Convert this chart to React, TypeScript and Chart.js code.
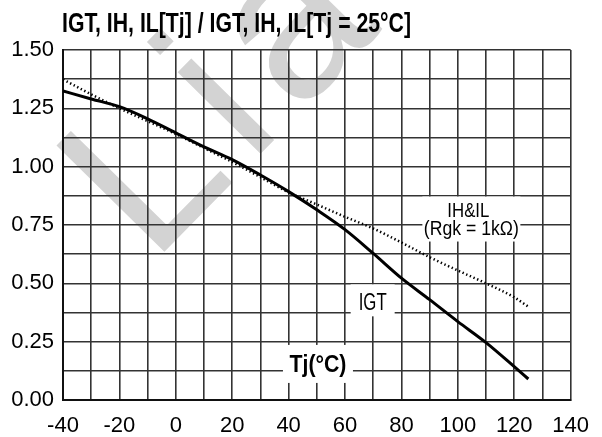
import React, { useEffect, useRef } from "react";
import { Chart, registerables } from "chart.js";

Chart.register(...registerables);

// Junction temperature (°C)
const tempC = [-40, -30, -20, -10, 0, 10, 20, 30, 40, 50, 60, 70, 80, 90, 100, 110, 120, 125];
// IGT[Tj] / IGT[25°C]
const igtRatio = [1.325, 1.29, 1.257, 1.205, 1.145, 1.085, 1.03, 0.964, 0.893, 0.815, 0.73, 0.628, 0.522, 0.43, 0.336, 0.246, 0.143, 0.09];
// IH, IL[Tj] / IH, IL[25°C]  (Rgk = 1kΩ)
const ihIlRatio = [1.374, 1.31, 1.25, 1.195, 1.14, 1.08, 1.02, 0.955, 0.89, 0.838, 0.785, 0.735, 0.675, 0.612, 0.555, 0.5, 0.44, 0.4];

const xTickValues = [-40, -20, 0, 20, 40, 60, 80, 100, 120, 140];
const yTickValues = [0, 0.25, 0.5, 0.75, 1.0, 1.25, 1.5];

const titleText = "IGT, IH, IL[Tj] / IGT, IH, IL[Tj = 25°C]";
const xAxisLabel = "Tj(°C)";
const igtLabel = "IGT";
const ihIlLabel = ["IH&IL", "(Rgk = 1kΩ)"];
const watermarkLetters = ["L", "i", "a"];

const SANS = '"Liberation Sans", Arial, Helvetica, sans-serif';

function drawFittedText(
  ctx: CanvasRenderingContext2D,
  text: string,
  cx: number,
  baseline: number,
  font: string,
  width: number
) {
  ctx.save();
  ctx.font = font;
  const w = ctx.measureText(text).width;
  ctx.translate(cx, baseline);
  ctx.scale(width / w, 1);
  ctx.textAlign = "center";
  ctx.textBaseline = "alphabetic";
  ctx.fillStyle = "#000";
  ctx.fillText(text, 0, 0);
  ctx.restore();
}

// large, light, rotated lettering behind the grid
const watermarkPlugin = {
  id: "watermark",
  beforeDraw(chart: Chart) {
    const ctx = chart.ctx;
    ctx.save();
    ctx.translate(163, 253);
    ctx.rotate((-45.5 * Math.PI) / 180);
    ctx.font = `220px ${SANS}`;
    ctx.fillStyle = "#d3d3d3";
    ctx.textBaseline = "alphabetic";
    ctx.textAlign = "left";
    let x = -16;
    for (const ch of watermarkLetters) {
      ctx.fillText(ch, x, 0);
      x += ctx.measureText(ch).width + 18;
    }
    ctx.restore();
  },
};

const labelsPlugin = {
  id: "curveLabels",
  beforeDatasetsDraw(chart: Chart) {
    const ctx = chart.ctx;
    const xs = chart.scales.x;
    const ys = chart.scales.y;
    const px = (v: number) => xs.getPixelForValue(v);
    const py = (v: number) => ys.getPixelForValue(v);

    // white patches that break the grid behind the labels
    ctx.save();
    ctx.fillStyle = "#fff";
    const ihX = px(104.8);
    ctx.fillRect(ihX - 49, py(0.872), 98, 45);
    const igtX = px(69.8);
    ctx.fillRect(igtX - 22, py(0.5) + 1, 44, 32);
    const tjX = px(50.4);
    ctx.fillRect(tjX - 35, py(0.236), 70, 38);
    ctx.restore();

    drawFittedText(ctx, ihIlLabel[0], ihX - 3, py(0.785), `21px ${SANS}`, 42);
    drawFittedText(ctx, ihIlLabel[1], ihX, py(0.707), `21px ${SANS}`, 95);
    drawFittedText(ctx, igtLabel, igtX, py(0.385), `23px ${SANS}`, 28);
    drawFittedText(ctx, xAxisLabel, tjX, py(0.121), `bold 23px ${SANS}`, 57);
  },
  afterDraw(chart: Chart) {
    drawFittedText(chart.ctx, titleText, 62 + 349 / 2, 31.5, `bold 27px ${SANS}`, 349);
  },
};

export default function App() {
  const canvasRef = useRef<HTMLCanvasElement | null>(null);

  useEffect(() => {
    const canvas = canvasRef.current;
    if (!canvas) return;
    const chart = new Chart(canvas, {
      type: "line",
      data: {
        datasets: [
          {
            label: "IGT",
            data: tempC.map((t, i) => ({ x: t, y: igtRatio[i] })),
            borderColor: "#000",
            borderWidth: 3,
            pointRadius: 0,
            cubicInterpolationMode: "monotone",
            fill: false,
          },
          {
            label: "IH&IL",
            data: tempC.map((t, i) => ({ x: t, y: ihIlRatio[i] })),
            borderColor: "#000",
            borderWidth: 2.5,
            borderDash: [1.4, 2.6],
            pointRadius: 0,
            cubicInterpolationMode: "monotone",
            fill: false,
          },
        ],
      },
      options: {
        animation: false,
        responsive: false,
        devicePixelRatio: 1,
        layout: { padding: { top: 50, right: 20, bottom: 0, left: 0 } },
        plugins: {
          legend: { display: false },
          tooltip: { enabled: false },
          title: { display: false },
        },
        scales: {
          x: {
            type: "linear",
            min: -40,
            max: 140,
            afterFit: (scale: any) => {
              scale.height = 37;
            },
            ticks: {
              stepSize: 10,
              maxTicksLimit: 100,
              autoSkip: false,
              maxRotation: 0,
              padding: 13,
              color: "#000",
              font: { family: SANS, size: 22 },
              callback: (v: any) => (xTickValues.includes(Number(v)) ? String(v) : ""),
            },
            grid: { color: "#333", lineWidth: 1.6, drawTicks: false },
            border: { color: "#111", width: 2 },
          },
          y: {
            type: "linear",
            min: 0,
            max: 1.5,
            afterFit: (scale: any) => {
              scale.width = 63;
            },
            ticks: {
              stepSize: 0.125,
              maxTicksLimit: 100,
              autoSkip: false,
              padding: 9,
              color: "#000",
              font: { family: SANS, size: 22 },
              callback: (v: any) =>
                yTickValues.some((t) => Math.abs(t - Number(v)) < 1e-6) ? Number(v).toFixed(2) : "",
            },
            grid: { color: "#333", lineWidth: 1.6, drawTicks: false },
            border: { color: "#111", width: 2 },
          },
        },
      },
      plugins: [watermarkPlugin, labelsPlugin],
    });
    return () => chart.destroy();
  }, []);

  return (
    <div style={{ position: "fixed", left: 0, top: 0, width: 602, height: 437, background: "#fff" }}>
      <canvas ref={canvasRef} width={602} height={437} style={{ width: 602, height: 437, display: "block" }} />
    </div>
  );
}
